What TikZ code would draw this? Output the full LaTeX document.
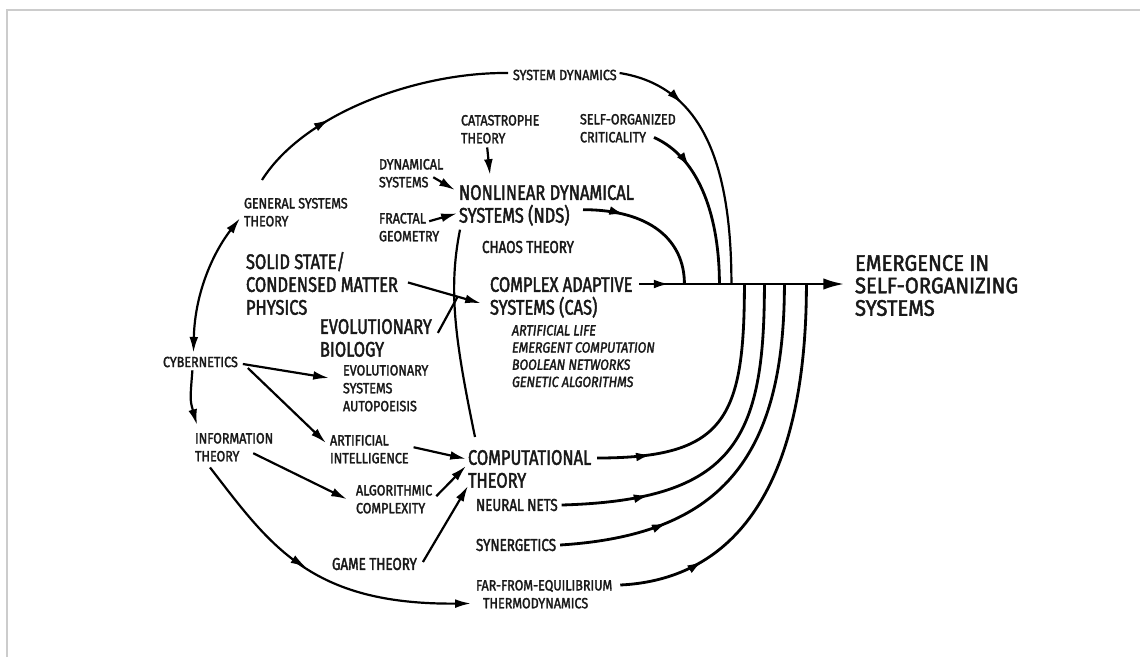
\documentclass[tikz,border=0pt]{standalone}
\usepackage{fontspec}
\setmainfont{Fira Sans}[FakeStretch=0.78,FakeBold=2]
\newfontfamily\labfont{Fira Sans}[FakeStretch=0.85,FakeBold=2]
\newfontfamily\widefont{Fira Sans}[FakeStretch=0.9,FakeBold=2]
\usetikzlibrary{arrows.meta,decorations.markings,calc}

\tikzset{
  every node/.style={inner sep=0pt,outer sep=0pt,text=black!90},
  lab/.style={font=\labfont\fontsize{8.4}{10.2}\selectfont,align=left},
  midlab/.style={font=\fontsize{9.8}{12}\selectfont,align=left},
  biglab/.style={font=\fontsize{12}{13}\selectfont,align=left},
  itlab/.style={font=\labfont\fontsize{8.4}{9.8}\selectfont\itshape,align=left},
  wire/.style={line width=1.25pt},
  heavy/.style={line width=1.6pt},
  link/.style={wire,-{Latex[length=9pt,width=5pt]}},
  flowmark/.style={postaction={decorate},decoration={markings,mark=at position #1 with {\arrow{Latex[length=9pt,width=5pt]}}}}
}

\begin{document}
\begin{tikzpicture}[x=0.02cm,y=-0.02cm]
\useasboundingbox (0,0) rectangle (1140,657);
\draw[black!20,line width=1.2pt] (7,657) -- (7,10) -- (1140,10);

\node[lab,anchor=west] (sysdyn) at (513,75) {SYSTEM DYNAMICS};
\node[lab,anchor=north west] (catas) at (461,115) {CATASTROPHE\\THEORY};
\node[lab,anchor=north west] (soc) at (580,114) {SELF-ORGANIZED\\CRITICALITY};
\node[lab,anchor=north west] (dynsys) at (379,159) {DYNAMICAL\\SYSTEMS};
\node[lab,anchor=north west] (fractal) at (379,213) {FRACTAL\\GEOMETRY};
\node[lab,anchor=north west] (gst) at (244,198) {GENERAL SYSTEMS\\THEORY};
\node[biglab,anchor=north west] (nds) at (459,185) {NONLINEAR DYNAMICAL\\SYSTEMS (NDS)};
\node[midlab,anchor=west] (chaos) at (482,247) {CHAOS THEORY};
\node[biglab,anchor=north west] (solid) at (246,252) {SOLID STATE/\\CONDENSED MATTER\\PHYSICS};
\node[biglab,anchor=north west] (cas) at (490,277) {COMPLEX ADAPTIVE\\SYSTEMS (CAS)};
\node[itlab,anchor=north west] (caslist) at (512,325) {ARTIFICIAL LIFE\\EMERGENT COMPUTATION\\BOOLEAN NETWORKS\\GENETIC ALGORITHMS};
\node[biglab,anchor=north west] (evobio) at (320,319) {EVOLUTIONARY\\BIOLOGY};
\node[lab,anchor=north west] (evosys) at (343,365) {EVOLUTIONARY\\SYSTEMS\\AUTOPOEISIS};
\node[lab,anchor=west] (cyber) at (163,362) {CYBERNETICS};
\node[lab,anchor=north west] (info) at (195,433) {INFORMATION\\THEORY};
\node[lab,anchor=north west] (ai) at (330,435) {ARTIFICIAL\\INTELLIGENCE};
\node[biglab,anchor=north west] (comput) at (468,450) {COMPUTATIONAL\\THEORY};
\node[lab,anchor=north west] (algo) at (356,485) {ALGORITHMIC\\COMPLEXITY};
\node[midlab,anchor=west] (neural) at (476,505) {NEURAL NETS};
\node[midlab,anchor=west] (synerg) at (476,545) {SYNERGETICS};
\node[midlab,anchor=west] (game) at (332,564) {GAME THEORY};
\node[lab,anchor=north west] (farfrom) at (476,580) {FAR-FROM-EQUILIBRIUM\\\hspace*{4pt}THERMODYNAMICS};
\node[anchor=north west,align=left,font=\widefont\fontsize{12.8}{12.8}\selectfont] (emerg) at (855,255) {EMERGENCE IN\\SELF-ORGANIZING\\SYSTEMS};

\coordinate (hub) at ([shift={(7,7)}]cas.north east);
\path (hub) ++(45,0) coordinate (jnds) ++(35,0) coordinate (jsoc) ++(12,0) coordinate (jsd)
  ++(13,0) coordinate (jcomp) ++(20,0) coordinate (jneur) ++(20,0) coordinate (jsyn) ++(22,0) coordinate (jfar);
\draw[heavy,-{Latex[length=12pt,width=6.5pt]},shorten >=6pt,flowmark=0.14] (hub) -- (hub -| emerg.west);

\draw[wire,flowmark=0.33] ([shift={(18,-18)}]gst.north west) .. controls (305,112) and (420,72) .. ([shift={(-5,-2)}]sysdyn.west);
\draw[wire,flowmark=0.27] ([shift={(3,-2)}]sysdyn.east) .. controls +(75,12) and +(0,-134) .. (jsd);
\draw[heavy,flowmark=0.28] ([shift={(74,-5)}]soc.south west) .. controls +(47,21) and +(0,-64) .. (jsoc);
\draw[heavy,flowmark=0.3] ([shift={(124,-16)}]nds.south west) .. controls +(67,0) and +(0,-44) .. (jnds);

\draw[heavy,flowmark=0.2] ([shift={(6,8)}]comput.north east) .. controls +(127,0) and +(0,136) .. (jcomp);
\draw[heavy,flowmark=0.25] ([shift={(4,0)}]neural.east) .. controls +(173,-5) and +(0,156) .. (jneur);
\draw[heavy,flowmark=0.28] ([shift={(4,0)}]synerg.east) .. controls +(159,-10) and +(0,176) .. (jsyn);
\draw[heavy,flowmark=0.22] ([shift={(8,5)}]farfrom.north east) .. controls +(105,-5) and +(0,216) .. (jfar);

\draw[wire,{Latex[length=9pt,width=5pt]}-{Latex[length=9pt,width=5pt]}] ([shift={(-7,-4)}]cyber.north) .. controls (195,290) and (215,250) .. ([shift={(-4,6)}]gst.west);
\draw[link] ([shift={(-8,3)}]cyber.south) .. controls (190,400) .. ([shift={(2,-8)}]info.north west);
\draw[link] ([shift={(5,2)}]cyber.east) -- ([shift={(-14,13)}]evosys.north west);
\draw[link] ([shift={(10,6)}]cyber.east) -- ([shift={(-4,8)}]ai.north west);
\draw[link] ([shift={(5,-2)}]ai.east) -- ([shift={(-2,-10)}]comput.west);
\draw[link] ([shift={(-20,6)}]info.east) -- ([shift={(-9,0)}]algo.west);
\draw[link,flowmark=0.45] ([shift={(15,6)}]info.south west) .. controls (270,545) and (310,605) .. ([shift={(-5,-5)}]farfrom.south west);
\draw[link] ([shift={(4,-3)}]algo.east) -- ([shift={(-2,-3)}]comput.west);
\draw[link] ([shift={(6,-2)}]game.east) -- ([shift={(0,-2)}]comput.south west);
\draw[wire] ([shift={(1,4)}]nds.south west) .. controls (448,290) and (455,340) .. ([shift={(7,-13)}]comput.north west);

\draw[link] ([shift={(10,-1)}]solid.east) -- coordinate[pos=0.68] (bio) ([shift={(-9,6)}]cas.west);
\draw[wire] ([shift={(6,-5)}]evobio.east) -- (bio);
\draw[link] ([shift={(-10,4)}]dynsys.east) -- ([shift={(-4,5)}]nds.north west);
\draw[link] ([shift={(-10,-6)}]fractal.east) -- ([shift={(-2,8)}]nds.west);
\draw[link] ([shift={(-13,4)}]catas.south) -- ([shift={(31,-10)}]nds.north west);
\end{tikzpicture}
\end{document}
